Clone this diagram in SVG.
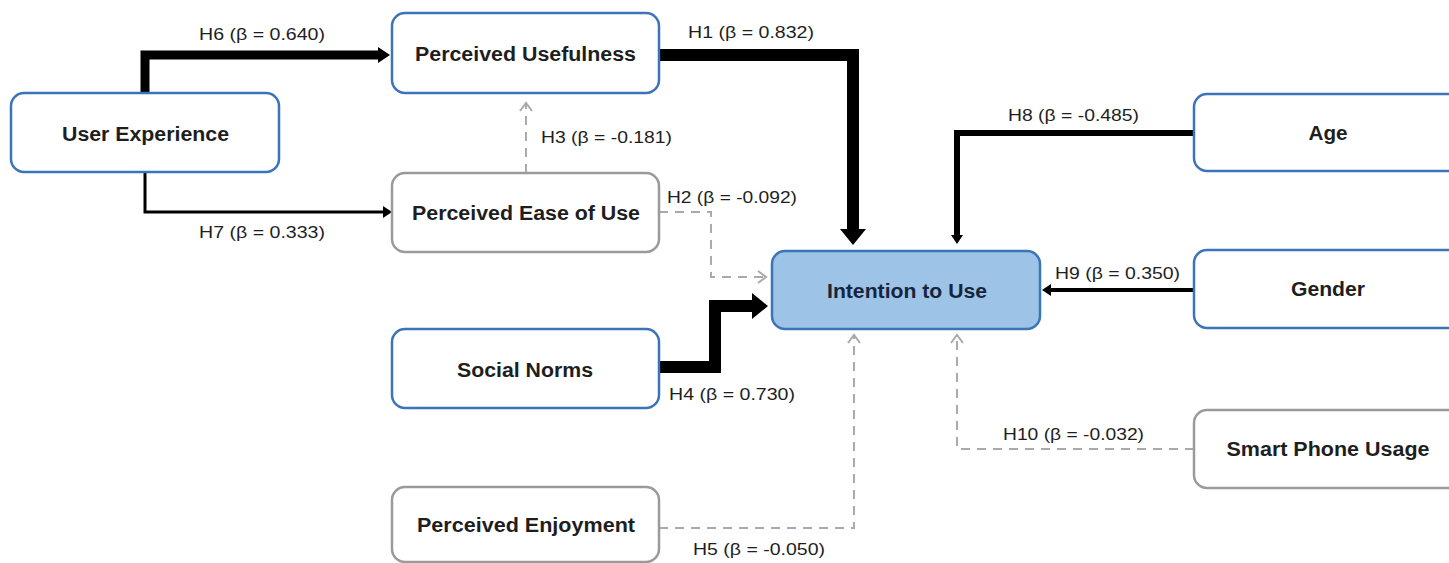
<svg xmlns="http://www.w3.org/2000/svg" width="1449" height="563" viewBox="0 0 1449 563">
<style>
.nb{fill:#fff;stroke:#3b74b9;stroke-width:2.5}
.ng{fill:#fff;stroke:#9a9a9a;stroke-width:2.5}
.nf{fill:#9dc3e6;stroke:#3b74b9;stroke-width:2.5}
.nt{font-family:"Liberation Sans",Arial,sans-serif;font-weight:bold;font-size:20px;fill:#1e1e1e;text-anchor:middle}
.el{font-family:"Liberation Sans",Arial,sans-serif;font-size:17px;fill:#1e1e1e}
.s{fill:none;stroke:#000;stroke-linejoin:miter}
.d{fill:none;stroke:#aaa;stroke-width:2;stroke-dasharray:9 7}
</style>
<defs>
<marker id="aBig" markerUnits="userSpaceOnUse" viewBox="0 -14 16 28" refX="0" refY="0" markerWidth="16" markerHeight="28" orient="auto" overflow="visible"><path d="M0,-13 L16,0 L0,13 z" fill="#000"/></marker>
<marker id="aMed" markerUnits="userSpaceOnUse" viewBox="0 -9 12 18" refX="0" refY="0" markerWidth="12" markerHeight="18" orient="auto" overflow="visible"><path d="M0,-8 L12,0 L0,8 z" fill="#000"/></marker>
<marker id="aSm" markerUnits="userSpaceOnUse" viewBox="0 -7 9 14" refX="0" refY="0" markerWidth="9" markerHeight="14" orient="auto" overflow="visible"><path d="M0,-6 L9,0 L0,6 z" fill="#000"/></marker>
<marker id="aOpen" markerUnits="userSpaceOnUse" viewBox="0 -7 10 14" refX="9" refY="0" markerWidth="10" markerHeight="14" orient="auto" overflow="visible"><path d="M1,-6 L9,0 L1,6" fill="none" stroke="#aaa" stroke-width="2"/></marker>
</defs>
<rect width="1449" height="563" fill="#fff"/>
<g id="connectors">
<path class="s" stroke-width="9" d="M145,94 V55 H378" marker-end="url(#aMed)"/>
<path class="s" stroke-width="3" d="M145,171 V212 H383" marker-end="url(#aSm)"/>
<path class="s" stroke-width="12" d="M659,55 H853 V229" marker-end="url(#aBig)"/>
<path class="d" d="M526,173 V103" marker-end="url(#aOpen)"/>
<path class="d" d="M659,212 H711 V277 H766" marker-end="url(#aOpen)"/>
<path class="s" stroke-width="12" d="M659,367 H715 V306 H752" marker-end="url(#aBig)"/>
<path class="d" d="M659,528 H854 V335" marker-end="url(#aOpen)"/>
<path class="s" stroke-width="6" d="M1194,133 H957 V235" marker-end="url(#aSm)"/>
<path class="s" stroke-width="4" d="M1194,290 H1051" marker-end="url(#aSm)"/>
<path class="d" d="M1194,449 H957 V335" marker-end="url(#aOpen)"/>
<text class="el" x="199" y="40" textLength="126" lengthAdjust="spacingAndGlyphs">H6 (β = 0.640)</text>
<text class="el" x="199" y="238" textLength="126" lengthAdjust="spacingAndGlyphs">H7 (β = 0.333)</text>
<text class="el" x="688" y="38" textLength="126" lengthAdjust="spacingAndGlyphs">H1 (β = 0.832)</text>
<text class="el" x="541" y="143" textLength="131" lengthAdjust="spacingAndGlyphs">H3 (β = -0.181)</text>
<text class="el" x="667" y="203" textLength="130" lengthAdjust="spacingAndGlyphs">H2 (β = -0.092)</text>
<text class="el" x="669" y="400" textLength="126" lengthAdjust="spacingAndGlyphs">H4 (β = 0.730)</text>
<text class="el" x="693" y="555" textLength="132" lengthAdjust="spacingAndGlyphs">H5 (β = -0.050)</text>
<text class="el" x="1008" y="121" textLength="131" lengthAdjust="spacingAndGlyphs">H8 (β = -0.485)</text>
<text class="el" x="1055" y="279" textLength="125" lengthAdjust="spacingAndGlyphs">H9 (β = 0.350)</text>
<text class="el" x="1003" y="440" textLength="141" lengthAdjust="spacingAndGlyphs">H10 (β = -0.032)</text>
</g>
<g id="user-experience"><rect class="nb" x="11" y="93" width="268" height="79" rx="13"/><text class="nt" x="145.5" y="141" textLength="167" lengthAdjust="spacingAndGlyphs">User Experience</text></g>
<g id="perceived-usefulness"><rect class="nb" x="392" y="13" width="267" height="80" rx="13"/><text class="nt" x="525.5" y="61" textLength="221" lengthAdjust="spacingAndGlyphs">Perceived Usefulness</text></g>
<g id="perceived-ease-of-use"><rect class="ng" x="392" y="173" width="267" height="79" rx="13"/><text class="nt" x="526" y="220" textLength="228" lengthAdjust="spacingAndGlyphs">Perceived Ease of Use</text></g>
<g id="social-norms"><rect class="nb" x="392" y="329" width="267" height="79" rx="13"/><text class="nt" x="525" y="377" textLength="136" lengthAdjust="spacingAndGlyphs">Social Norms</text></g>
<g id="perceived-enjoyment"><rect class="ng" x="392" y="487" width="267" height="75" rx="13"/><text class="nt" x="526" y="532" textLength="218" lengthAdjust="spacingAndGlyphs">Perceived Enjoyment</text></g>
<g id="intention-to-use"><rect class="nf" x="772" y="251" width="268" height="78" rx="13"/><text class="nt" x="907" y="298" textLength="160" lengthAdjust="spacingAndGlyphs" style="fill:#17253d">Intention to Use</text></g>
<g id="age"><rect class="nb" x="1194" y="94" width="270" height="77" rx="13"/><text class="nt" x="1328" y="140" textLength="39" lengthAdjust="spacingAndGlyphs">Age</text></g>
<g id="gender"><rect class="nb" x="1194" y="250" width="270" height="78" rx="13"/><text class="nt" x="1328" y="296" textLength="74" lengthAdjust="spacingAndGlyphs">Gender</text></g>
<g id="smart-phone-usage"><rect class="ng" x="1194" y="410" width="270" height="78" rx="13"/><text class="nt" x="1328" y="456" textLength="203" lengthAdjust="spacingAndGlyphs">Smart Phone Usage</text></g>
</svg>
